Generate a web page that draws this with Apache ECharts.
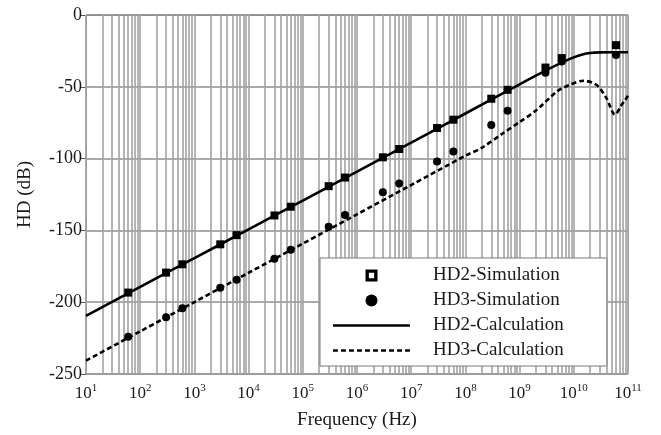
<!DOCTYPE html>
<html>
<head>
<meta charset="utf-8">
<script src="https://cdn.jsdelivr.net/npm/echarts@6/dist/echarts.min.js"></script>
<style>
  html, body { margin: 0; padding: 0; background: #fff; }
  #chart { width: 661px; height: 435px; }
</style>
</head>
<body>
<div id="chart"></div>
<script>
// simulated points (Hz / dB)
const simFreq = [60, 300, 600, 3e3, 6e3, 3e4, 6e4, 3e5, 6e5, 3e6, 6e6, 3e7, 6e7, 3e8, 6e8, 3e9, 6e9, 6e10]
const hd2Sim = [-193.3, -179.4, -173.6, -159.7, -153.3, -139.6, -133.5, -119.2, -113.2, -99.1, -93.3, -78.7, -72.9, -58.3, -52.1, -36.6, -30.0, -21.0]
const hd3Sim = [-224.0, -210.4, -204.3, -190.0, -184.3, -169.7, -163.5, -147.5, -139.2, -123.4, -117.4, -102.0, -95.1, -76.6, -66.6, -40.3, -32.4, -27.8]

// calculated curves
const hd2CalcFreq = [10, 100, 1e3, 1e4, 1e5, 1e6, 1e7, 1e8, 1e9, 2e9, 3e9, 5e9, 7e9, 1e10, 1.5e10, 2e10, 3e10, 5e10, 1e11]
const hd2Calc = [-209.5, -189.3, -169.3, -149.3, -129.2, -109.1, -88.9, -68.6, -48.3, -42.2, -38.7, -34.6, -32.0, -29.5, -27.3, -26.5, -26.0, -25.9, -25.9]
const hd3CalcFreq = [10, 100, 1e3, 1e4, 1e5, 1e6, 1e7, 1e8, 2e8, 5e8, 1e9, 2e9, 5e9, 8.5e9, 1.5e10, 2.6e10, 4e10, 5.75e10, 7.5e10, 1e11]
const hd3Calc = [-240.7, -220.3, -199.9, -179.5, -159.2, -138.8, -118.4, -98.0, -92.5, -82.2, -74.5, -66.5, -53.0, -48.6, -45.8, -48.6, -57.9, -69.4, -63.1, -56.3]

// axis ranges
const yTicks = [-250, -200, -150, -100, -50, 0]
const decades = [1, 2, 3, 4, 5, 6, 7, 8, 9, 10, 11]

const font = '"Liberation Serif", "DejaVu Serif", serif'
const gridColor = '#a3a3a3'

const zip = (xs, ys) => xs.map((x, i) => [x, ys[i]])

// log grid lines: every decade plus 2..9 inside it
const gridLines = []
decades.forEach((d, i) => {
	gridLines.push({ xAxis: Math.pow(10, d) })
	if (i < decades.length - 1) {
		for (let k = 2; k <= 9; k++) {
			gridLines.push({ xAxis: k * Math.pow(10, d) })
		}
	}
})

// legend icons
const hollowSquare = 'path://M0,0H10V10H0Z M2.8,2.8V7.2H7.2V2.8Z'
const solidBar = 'path://M0,0H77V2.6H0Z'
let dashBar = 'path://'
for (let k = 0; k < 10; k++) {
	const x = k * 7.7
	dashBar += 'M' + x + ',0H' + (x + 4.7) + 'V2.6H' + x + 'Z'
}

const chart = echarts.init(document.getElementById('chart'), null, { renderer: 'canvas' })

chart.setOption({
	animation: false,
	textStyle: { fontFamily: font, color: '#1a1a1a' },
	grid: {
		left: 86,
		right: 33,
		top: 15,
		bottom: 60,
		show: true,
		borderColor: '#8c8c8c',
		borderWidth: 1
	},
	legend: {
		orient: 'vertical',
		left: 320,
		top: 258,
		padding: [8, 43, 6, 13],
		itemWidth: 77,
		itemHeight: 12,
		itemGap: 6,
		backgroundColor: '#fff',
		borderColor: '#7a7a7a',
		borderWidth: 1,
		borderRadius: 0,
		z: 10,
		textStyle: { fontFamily: font, fontSize: 19, lineHeight: 18, color: '#1a1a1a', padding: [0, 0, 0, 18] },
		data: [
			{ name: 'HD2-Simulation', icon: hollowSquare, itemStyle: { color: '#000' } },
			{ name: 'HD3-Simulation', icon: 'circle' },
			{ name: 'HD2-Calculation', icon: solidBar, itemStyle: { color: '#000' } },
			{ name: 'HD3-Calculation', icon: dashBar, itemStyle: { color: '#000' } }
		]
	},
	xAxis: {
		type: 'log',
		logBase: 10,
		min: 10,
		max: 1e11,
		interval: 1,
		name: 'Frequency (Hz)',
		nameLocation: 'middle',
		nameGap: 37,
		nameTextStyle: { fontFamily: font, fontSize: 19, color: '#1a1a1a' },
		axisLine: { lineStyle: { color: '#8c8c8c', width: 1 } },
		axisTick: { show: false },
		splitLine: { show: false },
		axisLabel: {
			margin: 9,
			interval: 0,
			hideOverlap: false,
			showMinLabel: true,
			showMaxLabel: true,
			formatter: v => '{b|10}{s|' + Math.round(Math.log10(v)) + '}',
			rich: {
				b: { fontFamily: font, fontSize: 17, color: '#1a1a1a' },
				s: { fontFamily: font, fontSize: 11, color: '#1a1a1a', padding: [0, 0, 10, 0] }
			}
		}
	},
	yAxis: {
		type: 'value',
		min: yTicks[0],
		max: yTicks[yTicks.length - 1],
		interval: 50,
		name: 'HD (dB)',
		nameLocation: 'middle',
		nameGap: 51,
		nameTextStyle: { fontFamily: font, fontSize: 19, color: '#1a1a1a' },
		axisLine: { show: true, lineStyle: { color: '#8c8c8c', width: 1 } },
		axisTick: { show: true, length: 6, lineStyle: { color: '#555' } },
		splitLine: { show: true, lineStyle: { color: '#8f8f8f', width: 1.5 } },
		axisLabel: { fontFamily: font, fontSize: 18, color: '#1a1a1a', margin: 4 }
	},
	series: [
		{
			name: 'grid',
			type: 'line',
			data: [],
			z: 1,
			silent: true,
			markLine: {
				silent: true,
				z: 1,
				symbol: ['none', 'none'],
				label: { show: false },
				emphasis: { disabled: true },
				lineStyle: { color: gridColor, type: 'solid', width: 1.6 },
				data: gridLines
			}
		},
		{
			name: 'HD2-Calculation',
			type: 'line',
			data: zip(hd2CalcFreq, hd2Calc),
			showSymbol: false,
			symbol: 'none',
			smooth: 0.3,
			z: 3,
			lineStyle: { color: '#000', width: 2.6 },
			itemStyle: { color: '#000' }
		},
		{
			name: 'HD3-Calculation',
			type: 'line',
			data: zip(hd3CalcFreq, hd3Calc),
			showSymbol: false,
			symbol: 'none',
			smooth: 0.3,
			z: 3,
			lineStyle: { color: '#000', width: 2.6, type: [5, 3] },
			itemStyle: { color: '#000' }
		},
		{
			name: 'HD2-Simulation',
			type: 'scatter',
			data: zip(simFreq, hd2Sim),
			symbol: 'rect',
			symbolSize: 8,
			z: 4,
			itemStyle: { color: '#000', opacity: 1 }
		},
		{
			name: 'HD3-Simulation',
			type: 'scatter',
			data: zip(simFreq, hd3Sim),
			symbol: 'circle',
			symbolSize: 8,
			z: 4,
			itemStyle: { color: '#000', opacity: 1 }
		}
	]
})
</script>
</body>
</html>
